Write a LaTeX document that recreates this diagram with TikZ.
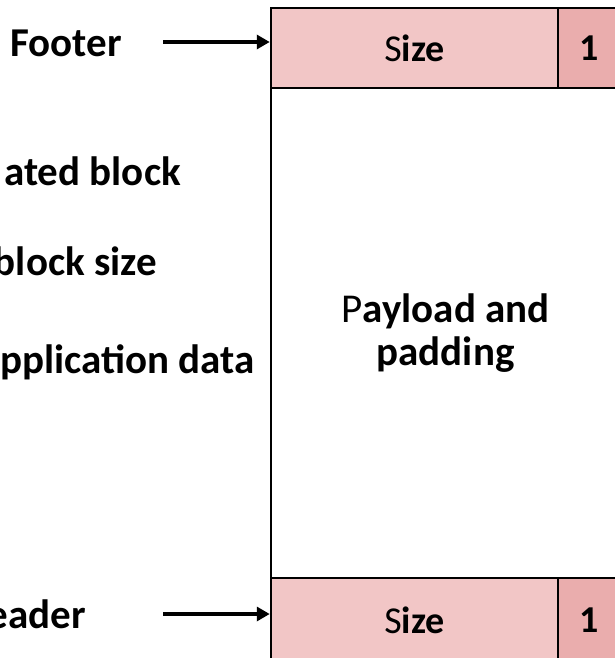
\documentclass[tikz,border=0pt]{standalone}
\usepackage{fontspec}
\setmainfont{Carlito}
\usetikzlibrary{arrows.meta}
\definecolor{sizepink}{RGB}{242,198,198}
\definecolor{bitpink}{RGB}{234,173,173}
\tikzset{
  cell/.style={
    draw=black,
    line width=2.5pt,
    inner sep=0pt,
    font=\fontsize{38}{44}\selectfont\bfseries
  },
  cell-size/.style={cell, fill=sizepink, minimum width=287pt},
  cell-bit/.style={cell, fill=bitpink, minimum width=62pt},
  label/.style={anchor=base east, inner sep=0pt, font=\fontsize{41}{48}\selectfont\bfseries},
  pointer/.style={line width=4pt, -{Triangle[length=13pt,width=14pt]}}
}

\begin{document}
\begin{tikzpicture}[x=1pt,y=-1pt]
  \useasboundingbox (0,0) rectangle (615,658);
  % Payload area between the two tags
  \node[cell, minimum width=349pt, minimum height=490pt, align=center,
    font=\fontsize{41}{43}\selectfont\bfseries] (payload) at (445.5,333)
    {\textmd{P}ayload and\\padding};
  % Footer tag
  \node[cell-size, minimum height=80pt] (footsize) at (414.5,48) {\textmd{S}ize};
  \node[cell-bit, minimum height=80pt] (footbit) at (589,48) {1};
  % Header tag
  \node[cell-size, minimum height=84pt] (hdrsize) at (414.5,620) {\textmd{S}ize};
  \node[cell-bit, minimum height=84pt] (hdrbit) at (589,620) {1};
  % Left-hand labels
  \node[label] (footlbl) at (122,57) {Footer};
  \node[label] (alloclbl) at (181,185) {ated block};
  \node[label] (sizelbl) at (157,275) {block size};
  \node[label] (datalbl) at (255,373) {pplication data};
  \node[label] (hdrlbl) at (86,628) {eader};
  % Pointers into the tags
  \coordinate (footarr) at (163,42);
  \coordinate (hdrarr) at (163,614);
  \draw[pointer] (footarr) -- (footarr -| footsize.west);
  \draw[pointer] (hdrarr) -- (hdrarr -| hdrsize.west);
\end{tikzpicture}
\end{document}
